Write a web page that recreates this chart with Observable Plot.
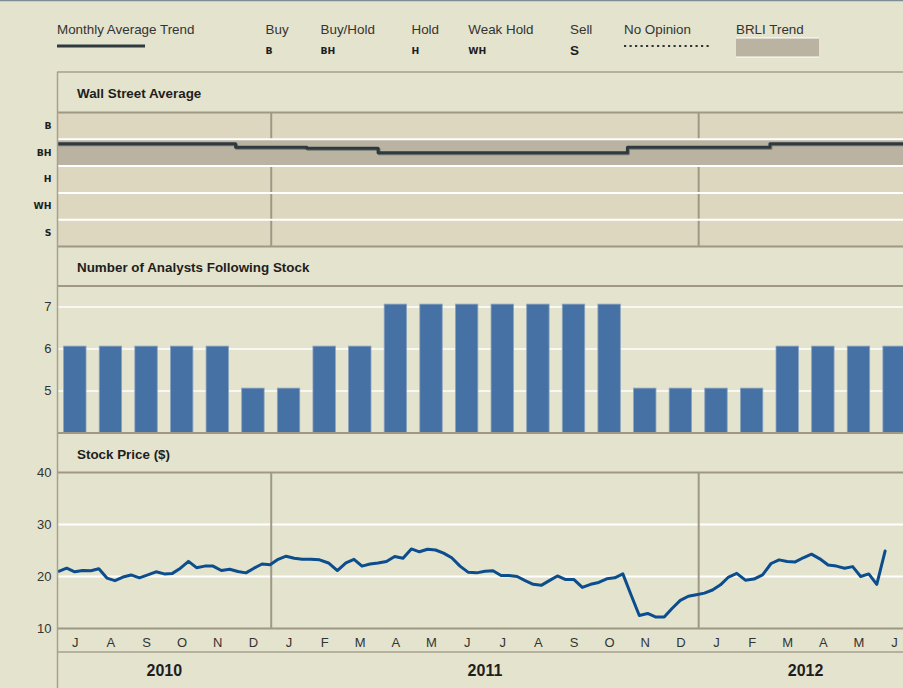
<!DOCTYPE html>
<html><head><meta charset="utf-8">
<script src="https://cdn.jsdelivr.net/npm/d3@7"></script>
<script src="https://cdn.jsdelivr.net/npm/@observablehq/plot@0.6"></script>
<style>
html,body{margin:0;padding:0;background:#E4E3CD;}
#root{position:relative;width:903px;height:688px;overflow:hidden;background:#E4E3CD;font-family:"Liberation Sans",Arial,sans-serif;}
#root svg{position:absolute;left:0;}
</style></head>
<body><div id="root"></div>
<script>
// ---------------- DATA ----------------
const months = ["2010-07","2010-08","2010-09","2010-10","2010-11","2010-12",
  "2011-01","2011-02","2011-03","2011-04","2011-05","2011-06","2011-07","2011-08","2011-09","2011-10","2011-11","2011-12",
  "2012-01","2012-02","2012-03","2012-04","2012-05","2012-06"];
const monthLabels = ["J","A","S","O","N","D","J","F","M","A","M","J","J","A","S","O","N","D","J","F","M","A","M","J"];
const ratingCodes = ["B","BH","H","WH","S"];
const ratingNames = ["Buy","Buy/Hold","Hold","Weak Hold","Sell"];
const brliTrend = "BH";
// Wall Street average rating per month (1 = Buy ... 5 = Sell)
const ratingAvg = [1.67,1.67,1.67,1.67,1.67,1.8,1.8,1.83,1.83,2,2,2,2,2,2,2,1.8,1.8,1.8,1.8,1.67,1.67,1.67,1.67];
// number of analysts per month
const analystCounts = [6,6,6,6,6,5,5,6,6,7,7,7,7,7,7,7,5,5,5,5,6,6,6,6];
const countTicks = [5,6,7];
const countDomain = [4,7.5];
// weekly closing price, first week ending 2010-07-02
const priceStart = "2010-07-02";
const prices = [21.0,21.6,20.9,21.15,21.1,21.5,19.7,19.2,19.9,20.3,19.75,20.3,20.9,20.5,20.6,21.6,22.9,21.7,22.0,22.0,
  21.15,21.4,20.96,20.7,21.6,22.4,22.25,23.3,23.9,23.5,23.3,23.3,23.2,22.6,21.15,22.6,23.3,22.0,22.4,22.6,
  22.9,23.85,23.5,25.3,24.75,25.25,25.1,24.5,23.6,22.0,20.8,20.7,21.0,21.1,20.2,20.2,20.0,19.2,18.5,18.3,
  19.2,20.1,19.4,19.4,17.9,18.5,18.85,19.55,19.75,20.5,16.5,12.5,12.9,12.2,12.2,13.9,15.4,16.2,16.5,16.8,
  17.4,18.4,19.9,20.6,19.3,19.5,20.3,22.5,23.2,22.9,22.8,23.6,24.3,23.4,22.2,22.0,21.6,21.9,20.0,20.5,18.5,24.9];
const priceTicks = [10,20,30,40];
const priceDomain = [10,40];

// ---------------- DERIVED TABLES ----------------
const [y0, m0] = months[0].split("-").map(Number);
function monthPos(d) {
  const y = d.getUTCFullYear(), m = d.getUTCMonth() + 1;
  const days = new Date(Date.UTC(y, m, 0)).getUTCDate();
  return (y - y0) * 12 + (m - m0) - 0.5 + (d.getUTCDate() - 1) / days;
}
const start = new Date(priceStart + "T00:00:00Z");
const priceTable = prices.map((p, i) => ({m: monthPos(d3.utcDay.offset(start, 7 * i)), p}));
const ratingTable = ratingAvg.map((r, i) => ({x: i - 0.5, r}));
ratingTable.push({x: ratingAvg.length - 0.5, r: ratingAvg[ratingAvg.length - 1]});
const countTable = analystCounts.map((n, i) => ({i, n}));
const yearOf = months.map(s => s.slice(0, 4));
const yearBreaks = d3.range(1, months.length).filter(i => yearOf[i] !== yearOf[i - 1]).map(i => i - 0.5);
const yearCenters = Array.from(d3.group(d3.range(months.length), i => yearOf[i]), ([year, idx]) => ({year, c: d3.mean(idx)}));

// ---------------- LAYOUT ----------------
const root = document.getElementById("root");
const W = 903;
const xDomain = [-0.5, 23.25];
const font = "'Liberation Sans', Arial, sans-serif";
const frameColor = "#9E9884";
const style = {background: "transparent", fontFamily: font, overflow: "visible"};
function place(svg, top) { svg.style.top = top + "px"; root.appendChild(svg); }

// Panel 1: Wall Street Average
place(Plot.plot({
  width: W, height: 136, marginLeft: 57, marginRight: 0, marginTop: 1, marginBottom: 1, style,
  x: {domain: xDomain, axis: null},
  y: {domain: [0.5, ratingCodes.length + 0.5], reverse: true},
  marks: [
    Plot.frame({fill: "#DDD7BF", stroke: "none"}),
    Plot.ruleX(yearBreaks, {stroke: frameColor, strokeWidth: 2}),
    Plot.rect([brliTrend], {x1: -0.5, x2: months.length - 0.5, y1: d => ratingCodes.indexOf(d) + 0.5, y2: d => ratingCodes.indexOf(d) + 1.5, fill: "#BBB3A2", clip: true}),
    Plot.ruleY(d3.range(1.5, ratingCodes.length), {stroke: "white", strokeWidth: 2}),
    Plot.line(ratingTable, {x: "x", y: "r", curve: "step-after", stroke: "#767A72", strokeWidth: 3, dx: 1, dy: 1, clip: true}),
    Plot.line(ratingTable, {x: "x", y: "r", curve: "step-after", stroke: "#2F3A3F", strokeWidth: 3, clip: true}),
    Plot.ruleY([0.5, ratingCodes.length + 0.5], {stroke: frameColor, strokeWidth: 2}),
    Plot.axisY({ticks: d3.range(1, ratingCodes.length + 1), tickFormat: i => ratingCodes[i - 1], tickSize: 0, tickPadding: 6, label: null,
      fontSize: 9.3, fontWeight: "bold", fontFamily: "DejaVu Sans", color: "#1e1e1e"})
  ]
}), 111);

// Panel 2: Number of analysts
place(Plot.plot({
  width: W, height: 152, marginLeft: 57, marginRight: 0, marginTop: 2.5, marginBottom: 2.5, style,
  x: {domain: xDomain, axis: null},
  y: {domain: countDomain},
  marks: [
    Plot.ruleY(countTicks, {stroke: "white", strokeWidth: 1.5}),
    Plot.rect(countTable, {x1: d => d.i - 0.5, x2: d => d.i + 0.5, y1: countDomain[0], y2: "n", insetLeft: 6.6, insetRight: 6.6, insetTop: -2.4,
      fill: "#4671A4", stroke: "#8CA3BF", strokeWidth: 0.8, clip: true}),
    Plot.ruleY(countDomain, {stroke: frameColor, strokeWidth: 2}),
    Plot.axisY({ticks: countTicks, tickFormat: d => String(d), tickSize: 0, tickPadding: 6, label: null, fontSize: 13, color: "#333"})
  ]
}), 283);

// Panel 3: Stock price
place(Plot.plot({
  width: W, height: 218, marginLeft: 57, marginRight: 0, marginTop: 2, marginBottom: 60, style,
  x: {domain: xDomain},
  y: {domain: priceDomain},
  marks: [
    Plot.ruleY(priceTicks.filter(t => t > priceDomain[0] && t < priceDomain[1]), {stroke: "white", strokeWidth: 2}),
    Plot.ruleX(yearBreaks, {stroke: frameColor, strokeWidth: 2}),
    Plot.line(priceTable, {x: "m", y: "p", stroke: "#0B4D8D", strokeWidth: 3, strokeLinejoin: "round"}),
    Plot.ruleY(priceDomain, {stroke: frameColor, strokeWidth: 2}),
    Plot.axisY({ticks: priceTicks, tickFormat: d => String(d), tickSize: 0, tickPadding: 6, label: null, fontSize: 13, color: "#333"}),
    Plot.axisX({ticks: d3.range(months.length), tickFormat: i => monthLabels[i], tickSize: 0, tickPadding: 9, label: null, fontSize: 13, color: "#333"}),
    Plot.text(yearCenters, {x: "c", text: "year", frameAnchor: "bottom", dy: 47, fontSize: 16, fontWeight: "bold", fill: "#1e1e1e"})
  ]
}), 470);

// ---------------- LEGEND, TITLES, RULES ----------------
const legendItems = [
  {x: 265.5}, {x: 320.5}, {x: 411.5}, {x: 468.3}, {x: 570}
].map((d, i) => ({...d, name: ratingNames[i], code: ratingCodes[i]}));
let s = `<svg width="903" height="688" style="top:0;pointer-events:none" font-family="${font}">`;
s += `<line x1="0" x2="903" y1="0.5" y2="0.5" stroke="#7D8D96" stroke-width="1.5"/>`;
s += `<text x="57" y="34" font-size="13.4" fill="#333">Monthly Average Trend</text>`;
s += `<line x1="57" x2="145" y1="46" y2="46" stroke="#2F3A3F" stroke-width="3"/>`;
for (const d of legendItems) {
  s += `<text x="${d.x}" y="34" font-size="13.4" fill="#333">${d.name}</text>`;
  if (d.code === "S") s += `<text x="${d.x}" y="55" font-size="13.5" font-weight="bold" fill="#1e1e1e">${d.code}</text>`;
  else s += `<text x="${d.x}" y="53.5" font-size="9.3" font-weight="bold" font-family="DejaVu Sans" fill="#1e1e1e">${d.code}</text>`;
}
s += `<text x="624" y="34" font-size="13.4" fill="#333">No Opinion</text>`;
s += `<line x1="624" x2="712" y1="46" y2="46" stroke="#333" stroke-width="2.2" stroke-dasharray="2.2,3.3"/>`;
s += `<text x="736" y="34" font-size="13.4" fill="#333">BRLI Trend</text>`;
s += `<rect x="736" y="38" width="83" height="19" fill="#BBB3A2"/>`;
s += `<line x1="736" x2="819" y1="38" y2="38" stroke="white" stroke-width="1"/>`;
s += `<line x1="736" x2="819" y1="57" y2="57" stroke="white" stroke-width="1"/>`;
s += `<line x1="57" x2="903" y1="72" y2="72" stroke="#A6A18E" stroke-width="1.5"/>`;
s += `<line x1="57.5" x2="57.5" y1="72" y2="688" stroke="#A6A18E" stroke-width="1.5"/>`;
s += `<line x1="57" x2="903" y1="652" y2="652" stroke="#A6A18E" stroke-width="1.5"/>`;
s += `<text x="77" y="98" font-size="13.4" font-weight="bold" fill="#1e1e1e">Wall Street Average</text>`;
s += `<text x="77" y="271.5" font-size="13.4" font-weight="bold" fill="#1e1e1e">Number of Analysts Following Stock</text>`;
s += `<text x="77" y="458.5" font-size="13.4" font-weight="bold" fill="#1e1e1e">Stock Price ($)</text>`;
s += `</svg>`;
root.insertAdjacentHTML("beforeend", s);
</script>
</body></html>
